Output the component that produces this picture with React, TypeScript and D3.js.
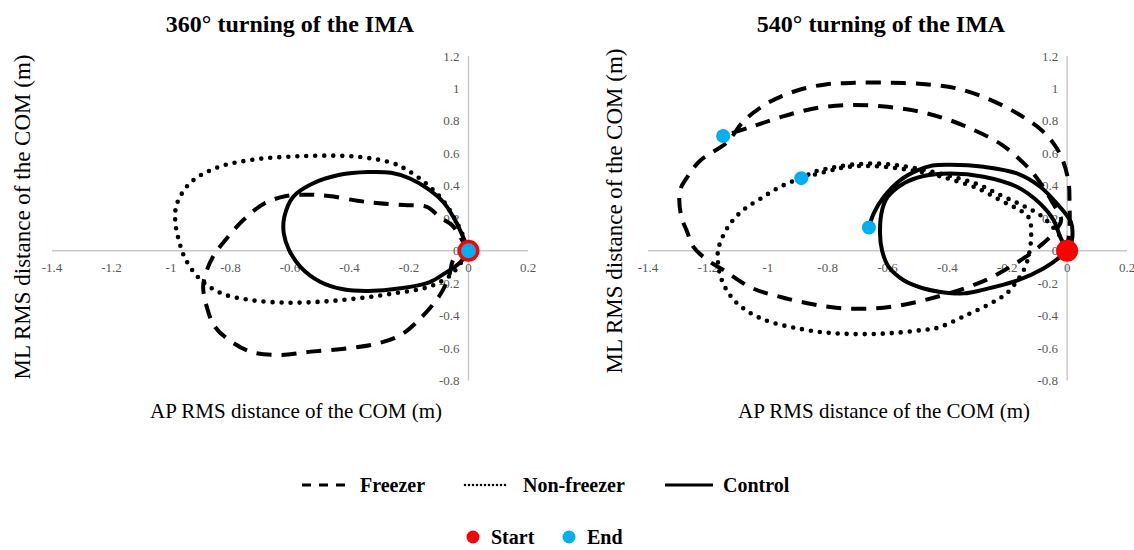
import React from 'react';
import * as d3 from 'd3';

type Pt = [number, number];

// axis ticks (same for both panels)
const xTicks = [-1.4, -1.2, -1, -0.8, -0.6, -0.4, -0.2, 0, 0.2];
const yTicks = [-0.8, -0.6, -0.4, -0.2, 0, 0.2, 0.4, 0.6, 0.8, 1, 1.2];

// 360° turning – AP (x), ML (y) in metres
const freezer360: Pt[] = [
  [0, 0], [-0.03, 0.09], [-0.055, 0.157], [-0.096, 0.206], [-0.14, 0.27], [-0.216, 0.281],
  [-0.3, 0.292], [-0.373, 0.308], [-0.469, 0.337], [-0.541, 0.345], [-0.613, 0.337],
  [-0.685, 0.292], [-0.757, 0.189], [-0.817, 0.066], [-0.859, -0.037], [-0.883, -0.14],
  [-0.892, -0.222], [-0.88, -0.345], [-0.853, -0.468], [-0.805, -0.55], [-0.733, -0.622],
  [-0.637, -0.643], [-0.529, -0.622], [-0.409, -0.602], [-0.312, -0.575], [-0.228, -0.52],
  [-0.156, -0.407], [-0.096, -0.273], [-0.066, -0.16], [-0.05, -0.05], [-0.02, 0],
];
const nonFreezer360: Pt[] = [
  [0, 0], [-0.02, 0.1], [-0.05, 0.21], [-0.09, 0.32], [-0.14, 0.41], [-0.2, 0.49],
  [-0.252, 0.538], [-0.373, 0.579], [-0.553, 0.583], [-0.733, 0.559], [-0.853, 0.507],
  [-0.937, 0.415], [-0.98, 0.29], [-0.986, 0.19], [-0.974, 0.066], [-0.95, -0.057],
  [-0.9, -0.18], [-0.83, -0.263], [-0.733, -0.304], [-0.613, -0.32], [-0.493, -0.314],
  [-0.373, -0.294], [-0.252, -0.263], [-0.132, -0.222], [-0.06, -0.15], [-0.02, -0.06], [0, 0],
];
const control360: Pt[] = [
  [0, 0], [-0.023, 0.105], [-0.051, 0.208], [-0.085, 0.3], [-0.13, 0.373], [-0.197, 0.445],
  [-0.26, 0.48], [-0.337, 0.485], [-0.433, 0.468], [-0.529, 0.41], [-0.589, 0.333],
  [-0.619, 0.209], [-0.621, 0.107], [-0.603, 0.004], [-0.565, -0.099], [-0.499, -0.191],
  [-0.421, -0.238], [-0.337, -0.248], [-0.228, -0.232], [-0.132, -0.195], [-0.08, -0.14],
  [-0.027, -0.07], [0, 0],
];
const start360: Pt[] = [[0, 0]];
const end360: Pt[] = [[0, 0]];

// 540° turning
const freezer540: Pt[] = [
  [0, 0], [0.008, 0.15], [0.008, 0.3], [0.005, 0.42], [-0.015, 0.56], [-0.045, 0.66],
  [-0.09, 0.75], [-0.17, 0.85], [-0.27, 0.94], [-0.368, 1.0], [-0.465, 1.025], [-0.587, 1.035],
  [-0.709, 1.035], [-0.807, 1.025], [-0.904, 0.986], [-1.0, 0.91], [-1.08, 0.8],
  [-1.135, 0.67], [-1.227, 0.553], [-1.27, 0.45], [-1.293, 0.37], [-1.29, 0.22],
  [-1.27, 0.12], [-1.247, 0.02], [-1.2, -0.06], [-1.147, -0.12], [-1.053, -0.23],
  [-0.957, -0.285], [-0.85, -0.33], [-0.75, -0.355], [-0.64, -0.355], [-0.537, -0.33],
  [-0.44, -0.287], [-0.34, -0.23], [-0.27, -0.18], [-0.2, -0.11], [-0.14, -0.04],
  [-0.09, 0.03], [-0.05, 0.1], [-0.02, 0.19], [-0.05, 0.3], [-0.09, 0.42], [-0.14, 0.53],
  [-0.22, 0.655], [-0.319, 0.75], [-0.417, 0.82], [-0.514, 0.865], [-0.62, 0.89],
  [-0.734, 0.898], [-0.85, 0.875], [-0.957, 0.823], [-1.057, 0.762], [-1.149, 0.707],
];
const nonFreezer540: Pt[] = [
  [0, 0], [-0.02, 0.08], [-0.05, 0.15], [-0.09, 0.22], [-0.15, 0.28], [-0.22, 0.34],
  [-0.3, 0.41], [-0.39, 0.46], [-0.47, 0.495], [-0.56, 0.525], [-0.64, 0.537], [-0.72, 0.53],
  [-0.79, 0.51], [-0.846, 0.486], [-0.888, 0.447], [-0.934, 0.415], [-0.979, 0.373],
  [-1.023, 0.322], [-1.068, 0.27], [-1.101, 0.219], [-1.129, 0.157], [-1.151, 0.085],
  [-1.166, 0.003], [-1.166, -0.08], [-1.157, -0.162], [-1.14, -0.234], [-1.112, -0.306],
  [-1.073, -0.367], [-1.029, -0.412], [-0.979, -0.446], [-0.912, -0.474], [-0.834, -0.499],
  [-0.757, -0.511], [-0.668, -0.514], [-0.579, -0.507], [-0.49, -0.49], [-0.434, -0.476],
  [-0.34, -0.4], [-0.25, -0.32], [-0.2, -0.26], [-0.165, -0.18], [-0.14, -0.1],
  [-0.125, 0.0], [-0.12, 0.1], [-0.123, 0.178], [-0.134, 0.219], [-0.168, 0.26],
  [-0.212, 0.3], [-0.3, 0.385], [-0.39, 0.44], [-0.465, 0.477], [-0.563, 0.507],
  [-0.66, 0.522], [-0.74, 0.515], [-0.8, 0.49], [-0.888, 0.447],
];
const control540: Pt[] = [
  [0, 0], [-0.023, 0.085], [-0.045, 0.188], [-0.09, 0.29], [-0.168, 0.394], [-0.279, 0.456],
  [-0.39, 0.476], [-0.48, 0.46], [-0.55, 0.41], [-0.6, 0.33], [-0.618, 0.25], [-0.625, 0.106],
  [-0.618, 0.0], [-0.596, -0.1], [-0.546, -0.182], [-0.479, -0.233], [-0.423, -0.254],
  [-0.344, -0.263], [-0.279, -0.24], [-0.168, -0.185], [-0.079, -0.11], [-0.023, -0.038],
  [0.01, 0.03], [0.018, 0.1], [0.012, 0.18], [-0.034, 0.29], [-0.09, 0.394], [-0.168, 0.476],
  [-0.279, 0.517], [-0.39, 0.53], [-0.45, 0.525], [-0.5, 0.495], [-0.557, 0.435],
  [-0.612, 0.332], [-0.646, 0.23], [-0.662, 0.143],
];
const start540: Pt[] = [[0, 0]];
const end540: Pt[] = [[-1.149, 0.707], [-0.888, 0.447], [-0.662, 0.143]];

const lineNames = ['Freezer', 'Non-freezer', 'Control'];
const markerNames = ['Start', 'End'];

const serif = 'Liberation Serif, Times New Roman, serif';
const RED = '#ff0000';
const BLUE = '#00b0f0';
const AXIS = '#c9c9c9';

const styles = [
  { dash: '15 10', cap: 'butt', w: 4 },
  { dash: '0 9', cap: 'round', w: 4.6 },
  { dash: undefined, cap: 'butt', w: 4 },
];

type PanelProps = {
  xr: [number, number];
  title: string;
  titleX: number;
  yLab: [number, number];
  xLabX: number;
  series: Pt[][];
  starts: Pt[];
  ends: Pt[];
  endFirst: boolean;
};

function Panel({ xr, title, titleX, yLab, xLabX, series, starts, ends, endFirst }: PanelProps) {
  const x = d3.scaleLinear().domain([-1.4, 0.2]).range(xr);
  const y = d3.scaleLinear().domain([-0.8, 1.2]).range([380.5, 56]);
  const line = d3.line<Pt>().x(d => x(d[0])).y(d => y(d[1])).curve(d3.curveCatmullRom.alpha(0.5));
  const x0 = x(0);
  const y0 = y(0);

  const startDots = starts.map((d, i) => (
    <circle key={'s' + i} cx={x(d[0])} cy={y(d[1])} r={11} fill={RED} />
  ));
  const endDots = ends.map((d, i) => (
    <circle key={'e' + i} cx={x(d[0])} cy={y(d[1])} r={endFirst ? 7 : 7.5} fill={BLUE} />
  ));

  return (
    <g>
      <text x={titleX} y={32} textAnchor="middle" fontFamily={serif} fontWeight="bold" fontSize={24}>
        {title}
      </text>
      <line x1={x(-1.4)} x2={x(0.2)} y1={y0} y2={y0} stroke={AXIS} strokeWidth={1.5} />
      <line x1={x0} x2={x0} y1={y(1.2)} y2={y(-0.8)} stroke={AXIS} strokeWidth={1.5} />
      {xTicks.map(t => (
        <text key={'x' + t} x={x(t)} y={272} textAnchor="middle" fontFamily={serif} fontSize={13} fill="#595959">
          {String(t)}
        </text>
      ))}
      {yTicks.map(t => (
        <text key={'y' + t} x={x0 - 9} y={y(t) + 4.5} textAnchor="end" fontFamily={serif} fontSize={13} fill="#595959">
          {String(t)}
        </text>
      ))}
      {series.map((s, i) => (
        <path
          key={'p' + i}
          d={line(s) || ''}
          fill="none"
          stroke="#000"
          strokeWidth={styles[i].w}
          strokeDasharray={styles[i].dash}
          strokeLinecap={styles[i].cap as any}
          strokeLinejoin="round"
        />
      ))}
      {endFirst ? endDots : startDots}
      {endFirst ? startDots : endDots}
      <text
        transform={`translate(${yLab[0]},${yLab[1]}) rotate(-90)`}
        textAnchor="middle"
        fontFamily={serif}
        fontSize={23}
      >
        ML RMS distance of the COM (m)
      </text>
      <text x={xLabX} y={418} textAnchor="middle" fontFamily={serif} fontSize={21}>
        AP RMS distance of the COM (m)
      </text>
    </g>
  );
}

export default function App() {
  const legendX = [302, 465, 665];
  const markerX = [473, 569];
  return (
    <svg
      width={1134}
      height={550}
      style={{ position: 'absolute', left: 0, top: 0, background: '#fff' }}
    >
      <Panel
        xr={[52, 528]}
        title="360° turning of the IMA"
        titleX={290}
        yLab={[30, 217]}
        xLabX={296}
        series={[freezer360, nonFreezer360, control360]}
        starts={start360}
        ends={end360}
        endFirst={false}
      />
      <Panel
        xr={[648, 1127]}
        title="540° turning of the IMA"
        titleX={881}
        yLab={[622, 211]}
        xLabX={884}
        series={[freezer540, nonFreezer540, control540]}
        starts={start540}
        ends={end540}
        endFirst={true}
      />
      {lineNames.map((n, i) => (
        <g key={n}>
          <line
            x1={legendX[i]}
            x2={legendX[i] + (i === 1 ? 44 : 48)}
            y1={485}
            y2={485}
            stroke="#000"
            strokeWidth={i === 1 ? 2.5 : 3}
            strokeDasharray={i === 0 ? '9 8' : i === 1 ? '0 4' : undefined}
            strokeLinecap={i === 1 ? 'round' : 'butt'}
          />
          <text x={legendX[i] + 58} y={492} fontFamily={serif} fontWeight="bold" fontSize={20}>
            {n}
          </text>
        </g>
      ))}
      {markerNames.map((n, i) => (
        <g key={n}>
          <circle cx={markerX[i]} cy={537} r={6.5} fill={i === 0 ? RED : BLUE} />
          <text x={markerX[i] + 18} y={544} fontFamily={serif} fontWeight="bold" fontSize={20}>
            {n}
          </text>
        </g>
      ))}
    </svg>
  );
}
